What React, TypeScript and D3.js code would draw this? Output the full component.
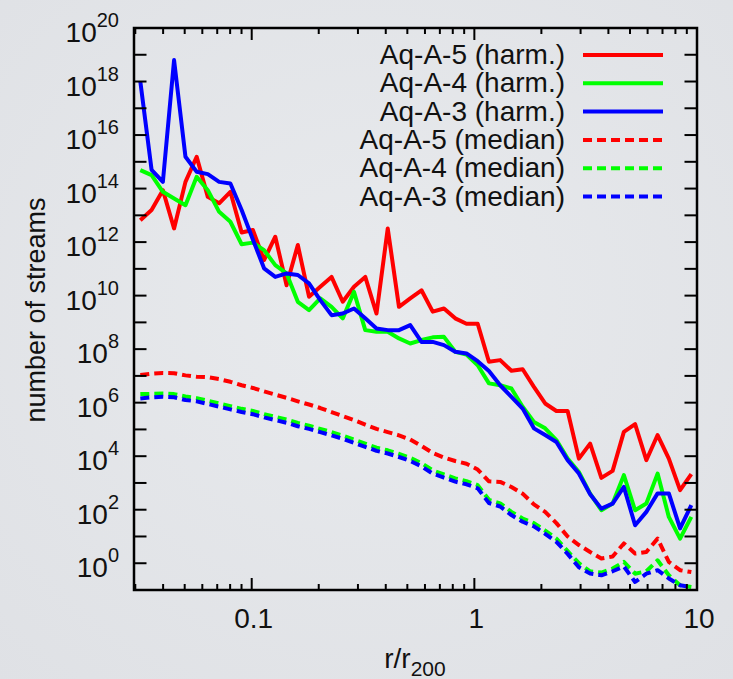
import React from "react";
import * as d3 from "d3";

// r / r200 bin centres
const rValues = [
  0.0316, 0.0355, 0.0399, 0.0448, 0.0504, 0.0566, 0.0635, 0.0714, 0.0802, 0.0901,
  0.1012, 0.1136, 0.1276, 0.1434, 0.1611, 0.1809, 0.2032, 0.2283, 0.2564, 0.288,
  0.3236, 0.3635, 0.4083, 0.4586, 0.5152, 0.5788, 0.6501, 0.7303, 0.8204, 0.9216,
  1.0351, 1.1628, 1.3062, 1.4672, 1.6482, 1.8514, 2.0797, 2.3362, 2.6242, 2.9479,
  3.3113, 3.7197, 4.1783, 4.6935, 5.2723, 5.9224, 6.6527, 7.473, 8.3946, 9.4297,
];

// log10(number of streams)
const a5Harm = [
  12.82, 13.2, 13.94, 12.51, 14.25, 15.19, 13.69, 13.45, 13.88, 12.36,
  12.45, 11.33, 12.2, 10.39, 11.89, 9.96, 10.33, 10.7, 9.77, 10.33,
  10.7, 9.33, 12.51, 9.58, 9.9, 10.2, 9.4, 9.52, 9.15, 8.95,
  8.95, 7.53, 7.59, 7.19, 7.25, 6.59, 5.97, 5.69, 5.69, 3.91,
  4.47, 3.19, 3.45, 4.91, 5.2, 3.85, 4.79, 3.91, 2.73, 3.33,
];
const a4Harm = [
  14.69, 14.5, 13.88, 13.63, 13.38, 14.44, 13.94, 13.13, 12.76, 11.92,
  11.98, 11.7, 11.14, 10.83, 9.77, 9.46, 9.9, 9.58, 9.15, 10.14,
  8.71, 8.65, 8.65, 8.4, 8.21, 8.34, 8.44, 8.46, 7.9, 7.8,
  7.4, 6.72, 6.65, 6.53, 5.85, 5.28, 5.04, 4.6, 3.91, 3.41,
  2.6, 1.98, 2.23, 3.29, 1.98, 2.23, 3.35, 1.73, 0.92, 1.73,
];
const a3Harm = [
  18.0, 14.7, 14.25, 18.8, 15.19, 14.63, 14.54, 14.25, 14.19, 13.2,
  12.1, 11.02, 10.7, 10.83, 10.77, 10.46, 9.83, 9.27, 9.33, 9.52,
  9.15, 8.77, 8.71, 8.71, 8.9, 8.27, 8.27, 8.15, 7.9, 7.84,
  7.55, 7.18, 6.65, 6.22, 5.78, 5.04, 4.79, 4.53, 3.85, 3.35,
  2.58, 2.04, 2.23, 2.85, 1.42, 1.92, 2.61, 2.61, 1.3, 2.17,
];
const a5Median = [
  7.03, 7.08, 7.11, 7.1, 7.02, 6.97, 6.95, 6.88, 6.78, 6.65,
  6.55, 6.42, 6.3, 6.18, 6.05, 5.93, 5.8, 5.65, 5.5, 5.35,
  5.18, 5.02, 4.9, 4.78, 4.62, 4.38, 4.12, 3.95, 3.82, 3.72,
  3.5, 3.06, 3.04, 2.85, 2.6, 2.2, 1.92, 1.5, 1.0, 0.68,
  0.42, 0.18, 0.25, 0.74, 0.36, 0.42, 0.92, 0.05, -0.26, -0.33,
];
const a4Median = [
  6.32, 6.33, 6.34, 6.32, 6.23, 6.17, 6.07, 5.97, 5.87, 5.77,
  5.69, 5.57, 5.47, 5.37, 5.24, 5.14, 5.02, 4.9, 4.77, 4.62,
  4.47, 4.32, 4.22, 4.09, 3.94, 3.74, 3.47, 3.32, 3.17, 3.07,
  2.92, 2.37, 2.24, 1.92, 1.67, 1.5, 1.22, 0.92, 0.45, 0.0,
  -0.3, -0.35, -0.2, 0.05, -0.39, -0.3, 0.11, -0.45, -0.82, -0.89,
];
const a3Median = [
  6.16, 6.2, 6.22, 6.2, 6.1, 6.05, 5.95, 5.85, 5.75, 5.65,
  5.57, 5.45, 5.35, 5.25, 5.12, 5.02, 4.9, 4.78, 4.65, 4.5,
  4.35, 4.2, 4.1, 3.97, 3.82, 3.62, 3.35, 3.2, 3.05, 2.95,
  2.8, 2.25, 2.12, 1.8, 1.55, 1.38, 1.1, 0.8, 0.35, -0.15,
  -0.38, -0.45, -0.3, -0.12, -0.7, -0.39, -0.26, -0.57, -0.82, -0.89,
];

const seriesNames = [
  "Aq-A-5 (harm.)",
  "Aq-A-4 (harm.)",
  "Aq-A-3 (harm.)",
  "Aq-A-5 (median)",
  "Aq-A-4 (median)",
  "Aq-A-3 (median)",
];
const seriesValues = [a5Harm, a4Harm, a3Harm, a5Median, a4Median, a3Median];
const seriesColors = ["#ff0000", "#00ff00", "#0000ff", "#ff0000", "#00ff00", "#0000ff"];
const seriesDashed = [false, false, false, true, true, true];

const xTickLabels = ["0.1", "1", "10"];
const xTickValues = [0.1, 1, 10];
const yLabelExponents = [0, 2, 4, 6, 8, 10, 12, 14, 16, 18, 20];

const W = 733;
const H = 679;
const L = 134, R = 697, T = 28, B = 590;
const FONT = "'Liberation Sans', Arial, Helvetica, sans-serif";

export default function App() {
  const x = d3.scaleLog().domain([0.0296, 10]).range([L, R]);
  const y = d3.scaleLog().domain([0.1, 1e20]).range([B, T]);

  const line = d3
    .line<[number, number]>()
    .x((d) => x(d[0]))
    .y((d) => y(Math.pow(10, d[1])))
    .curve(d3.curveLinear);

  const minorX: number[] = [];
  [0.01, 0.1, 1].forEach((dec) => {
    for (let m = 2; m <= 9; m++) {
      const v = dec * m;
      if (v >= 0.0296 && v <= 10) minorX.push(v);
    }
  });
  const yTicks: number[] = [];
  for (let e = 0; e <= 19; e++) yTicks.push(Math.pow(10, e));

  const legendX0 = 583, legendX1 = 663, legendY0 = 55, legendDy = 28.3;

  return (
    <svg
      width={W}
      height={H}
      style={{ position: "absolute", left: 0, top: 0, display: "block" }}
      fontFamily={FONT}
    >
      <defs>
        <radialGradient id="bg" cx="50%" cy="45%" r="75%">
          <stop offset="0%" stopColor="#e8eaed" />
          <stop offset="100%" stopColor="#dfe1e5" />
        </radialGradient>
        <clipPath id="plotclip">
          <rect x={L} y={T} width={R - L} height={B - T} />
        </clipPath>
      </defs>
      <rect x={0} y={0} width={W} height={H} fill="url(#bg)" />

      {/* series */}
      <g clipPath="url(#plotclip)">
        {seriesValues.map((vals, i) => (
          <path
            key={seriesNames[i]}
            d={line(vals.map((v, k) => [rValues[k], v] as [number, number])) || ""}
            fill="none"
            stroke={seriesColors[i]}
            strokeWidth={4}
            strokeLinejoin="round"
            strokeDasharray={seriesDashed[i] ? "9 5" : undefined}
          />
        ))}
      </g>

      {/* frame */}
      <rect x={L} y={T} width={R - L} height={B - T} fill="none" stroke="#000" strokeWidth={2.5} />

      {/* x ticks */}
      {minorX.map((v) => (
        <g key={"mx" + v}>
          <line x1={x(v)} x2={x(v)} y1={B} y2={B - 6} stroke="#000" strokeWidth={2} />
          <line x1={x(v)} x2={x(v)} y1={T} y2={T + 6} stroke="#000" strokeWidth={2} />
        </g>
      ))}
      {xTickValues.map((v) => (
        <g key={"Mx" + v}>
          <line x1={x(v)} x2={x(v)} y1={B} y2={B - 12} stroke="#000" strokeWidth={2} />
          <line x1={x(v)} x2={x(v)} y1={T} y2={T + 12} stroke="#000" strokeWidth={2} />
        </g>
      ))}
      {/* y ticks */}
      {yTicks.map((v) => (
        <g key={"y" + v}>
          <line x1={L} x2={L + 12.5} y1={y(v)} y2={y(v)} stroke="#000" strokeWidth={2} />
          <line x1={R} x2={R - 12.5} y1={y(v)} y2={y(v)} stroke="#000" strokeWidth={2} />
        </g>
      ))}

      {/* x tick labels */}
      {xTickValues.map((v, i) => (
        <text key={"xl" + v} x={x(v) + 2} y={628} fontSize={28} textAnchor="middle" fill="#111">
          {xTickLabels[i]}
        </text>
      ))}
      {/* y tick labels */}
      {yLabelExponents.map((e) => {
        const yy = y(Math.pow(10, e));
        return (
          <text key={"yl" + e} x={119} y={yy + 14} fontSize={28} textAnchor="end" fill="#111">
            10
            <tspan fontSize={20} dy={-15}>
              {String(e)}
            </tspan>
          </text>
        );
      })}

      {/* axis titles */}
      <text x={415} y={668} fontSize={28} textAnchor="middle" fill="#111">
        r/r
        <tspan fontSize={21} dy={8}>
          200
        </tspan>
      </text>
      <text
        transform="translate(45,310) rotate(-90)"
        fontSize={27}
        textAnchor="middle"
        fill="#111"
      >
        number of streams
      </text>

      {/* legend */}
      {seriesNames.map((name, i) => {
        const ly = legendY0 + i * legendDy;
        return (
          <g key={"lg" + name}>
            <text x={565} y={ly + 9} fontSize={28} textAnchor="end" fill="#111">
              {name}
            </text>
            <line
              x1={legendX0}
              x2={legendX1}
              y1={ly}
              y2={ly}
              stroke={seriesColors[i]}
              strokeWidth={4}
              strokeDasharray={seriesDashed[i] ? "9 5" : undefined}
            />
          </g>
        );
      })}
    </svg>
  );
}
